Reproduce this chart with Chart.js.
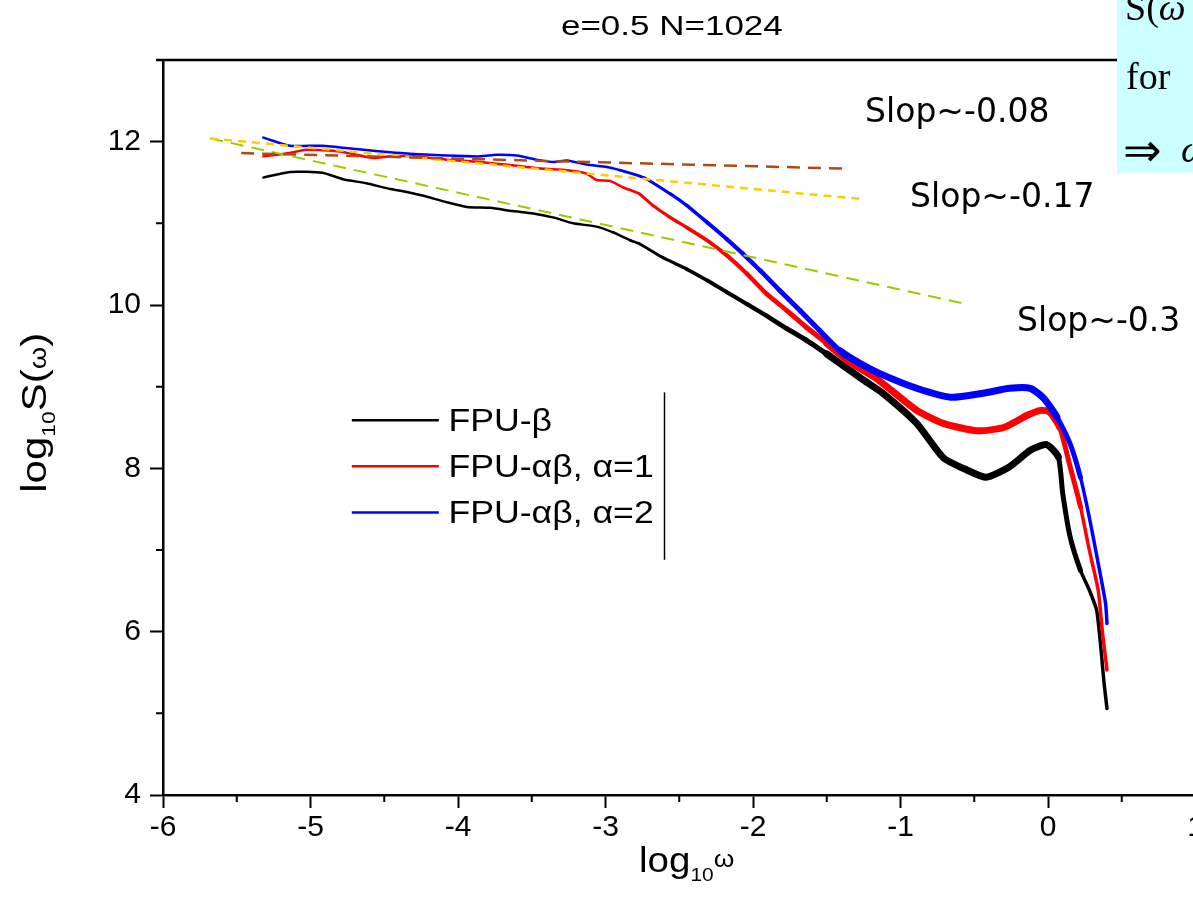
<!DOCTYPE html>
<html lang="en">
<head>
<meta charset="utf-8" />
<title>e=0.5 N=1024</title>
<script src="https://cdn.jsdelivr.net/npm/chart.js@4.4.0/dist/chart.umd.min.js"></script>
<style>
  html, body { margin: 0; padding: 0; background: #fff; overflow: hidden; }
  #wrap { position: relative; width: 1212px; height: 919px; }
</style>
</head>
<body>
<div id="wrap"><canvas id="spec"></canvas></div>
<script>
// ---- data (log10 omega, log10 S) ----
const fpuBetaX = [-5.32, -5.14, -4.92, -4.78, -4.62, -4.46, -4.39, -4.24, -4.08, -3.94, -3.78, -3.63, -3.49, -3.35, -3.22, -3.06, -2.95, -2.83, -2.77, -2.61, -2.45, -2.31, -2.18, -2.04, -1.91, -1.77, -1.64, -1.50, -1.36, -1.25, -1.12, -0.89, -0.71, -0.55, -0.42, -0.26, -0.12, -0.01, 0.07, 0.10, 0.15, 0.22, 0.28, 0.33, 0.36, 0.38, 0.40];
const fpuBetaY = [11.56, 11.63, 11.62, 11.54, 11.49, 11.42, 11.40, 11.34, 11.26, 11.20, 11.19, 11.15, 11.12, 11.07, 11.00, 10.96, 10.89, 10.79, 10.75, 10.58, 10.44, 10.30, 10.16, 10.01, 9.87, 9.71, 9.57, 9.40, 9.22, 9.08, 8.92, 8.55, 8.13, 7.98, 7.89, 8.02, 8.22, 8.29, 8.14, 7.69, 7.16, 6.75, 6.51, 6.26, 5.77, 5.37, 5.06];

const alpha1X = [-5.32, -5.14, -5.03, -4.80, -4.58, -4.46, -4.30, -4.08, -3.85, -3.63, -3.44, -3.26, -3.13, -3.06, -2.97, -2.88, -2.77, -2.68, -2.56, -2.45, -2.31, -2.18, -2.04, -1.91, -1.77, -1.64, -1.50, -1.36, -1.18, -1.12, -0.89, -0.71, -0.48, -0.30, -0.14, -0.05, 0.01, 0.08, 0.15, 0.22, 0.28, 0.34, 0.37, 0.40];
const alpha1Y = [11.82, 11.86, 11.90, 11.88, 11.80, 11.82, 11.82, 11.78, 11.75, 11.71, 11.67, 11.65, 11.61, 11.53, 11.52, 11.44, 11.36, 11.22, 11.07, 10.95, 10.79, 10.61, 10.38, 10.14, 9.93, 9.73, 9.53, 9.32, 9.12, 9.04, 8.71, 8.55, 8.46, 8.50, 8.65, 8.71, 8.69, 8.50, 8.02, 7.53, 7.00, 6.51, 5.98, 5.53];

const alpha2X = [-5.32, -5.14, -4.92, -4.69, -4.46, -4.30, -4.08, -3.85, -3.74, -3.60, -3.47, -3.35, -3.26, -3.13, -2.99, -2.90, -2.74, -2.56, -2.45, -2.31, -2.18, -2.07, -1.95, -1.82, -1.68, -1.55, -1.41, -1.27, -1.14, -0.89, -0.66, -0.44, -0.26, -0.12, -0.03, 0.06, 0.15, 0.22, 0.28, 0.34, 0.39, 0.40];
const alpha2Y = [12.05, 11.95, 11.95, 11.91, 11.87, 11.85, 11.83, 11.82, 11.84, 11.83, 11.78, 11.75, 11.77, 11.72, 11.69, 11.65, 11.56, 11.36, 11.22, 11.01, 10.81, 10.63, 10.42, 10.18, 9.93, 9.69, 9.44, 9.28, 9.16, 8.98, 8.87, 8.92, 8.98, 8.98, 8.86, 8.63, 8.30, 7.89, 7.40, 6.84, 6.35, 6.10];

// fitted straight lines
const fit008X = [-5.47, -1.37];
const fit008Y = [11.86, 11.67];
const fit017X = [-5.68, -1.28];
const fit017Y = [12.04, 11.30];
const fit03X = [-5.68, -0.55];
const fit03Y = [12.04, 10.01];

const seriesNames = ["FPU-β", "FPU-αβ, α=1", "FPU-αβ, α=2"];
const slopeLabels = ["Slop~-0.08", "Slop~-0.17", "Slop~-0.3"];
const xLabelValues = [-6, -5, -4, -3, -2, -1, 0, 1];
const yLabelValues = [4, 6, 8, 10, 12];

// ---- helpers ----
const zip = (xs, ys) => xs.map((x, i) => ({ x: x, y: ys[i] }));
const SANS = "'Liberation Sans', Arial, sans-serif";

function bandWidth(x) {
  // the measured curves get noisier (thicker) towards high frequency
  if (x < -3) return 2.5;
  if (x < -1.5) return 2.5 + ((x + 3) / 1.5) * 3;
  if (x < 0.02) return 7;
  if (x < 0.2) return 5;
  return 3.5;
}

function curve(label, xs, ys, color, order) {
  return {
    label: label,
    data: zip(xs, ys),
    borderColor: color,
    borderWidth: 2.5,
    borderCapStyle: "round",
    borderJoinStyle: "round",
    pointRadius: 0,
    tension: 0.2,
    order: order,
    segment: { borderWidth: (c) => bandWidth(c.p0.parsed.x) },
  };
}

function fitLine(xs, ys, color, dash, width) {
  return {
    data: zip(xs, ys),
    borderColor: color,
    borderWidth: width,
    borderDash: dash,
    pointRadius: 0,
    order: 0,
  };
}

// draw a row of text pieces, each { t, size, dy, family }, stretched by sx
function drawRich(ctx, parts, x, y, align, sx) {
  sx = sx || 1;
  let total = 0;
  parts.forEach((p) => {
    ctx.font = (p.style || "") + " " + p.size + "px " + (p.family || SANS);
    p.w = ctx.measureText(p.t).width;
    total += p.w;
  });
  ctx.save();
  ctx.translate(x, y);
  ctx.scale(sx, 1);
  let cx = align === "center" ? -total / 2 : 0;
  ctx.textAlign = "left";
  ctx.textBaseline = "alphabetic";
  parts.forEach((p) => {
    ctx.font = (p.style || "") + " " + p.size + "px " + (p.family || SANS);
    ctx.fillText(p.t, cx, p.dy || 0);
    cx += p.w;
  });
  ctx.restore();
}

const decorations = {
  id: "decorations",
  afterDraw(chart) {
    const ctx = chart.ctx;
    const xs = chart.scales.x;
    const ys = chart.scales.y;
    const a = chart.chartArea;
    const px = (v) => xs.getPixelForValue(v);
    const py = (v) => ys.getPixelForValue(v);
    ctx.save();
    ctx.fillStyle = "#000";
    ctx.strokeStyle = "#000";

    // frame top + right
    ctx.lineWidth = 2.5;
    ctx.beginPath();
    ctx.moveTo(a.left - 7, a.top);
    ctx.lineTo(a.right, a.top);
    ctx.lineTo(a.right, a.bottom);
    ctx.stroke();

    // minor ticks
    ctx.lineWidth = 2;
    ctx.beginPath();
    for (let v = -5.5; v < 1; v += 1) {
      ctx.moveTo(px(v), a.bottom);
      ctx.lineTo(px(v), a.bottom + 7);
    }
    for (let v = 5; v < 13; v += 2) {
      ctx.moveTo(a.left, py(v));
      ctx.lineTo(a.left - 7, py(v));
    }
    ctx.stroke();

    // title
    drawRich(ctx, [{ t: "e=0.5 N=1024", size: 28 }], px(-2.55), 35, "center", 1.25);

    // axis titles
    drawRich(ctx, [
      { t: "log", size: 35 },
      { t: "10", size: 19, dy: 9 },
      { t: "ω", size: 24, dy: -5 },
    ], px(-2.45), 872, "center", 1.1);

    ctx.save();
    ctx.translate(46, py(8.68));
    ctx.rotate(-Math.PI / 2);
    drawRich(ctx, [
      { t: "log", size: 35 },
      { t: "10", size: 19, dy: 9 },
      { t: "S(", size: 35 },
      { t: "ω", size: 24 },
      { t: ")", size: 35 },
    ], 0, 0, "center", 1.2);
    ctx.restore();

    // legend
    const colors = ["#000000", "#ff0000", "#0000ff"];
    const rows = [8.59, 8.025, 7.46];
    ctx.lineWidth = 2.5;
    rows.forEach((r, i) => {
      ctx.strokeStyle = colors[i];
      ctx.beginPath();
      ctx.moveTo(px(-4.72), py(r));
      ctx.lineTo(px(-4.13), py(r));
      ctx.stroke();
      ctx.fillStyle = "#000";
      drawRich(ctx, [{ t: seriesNames[i], size: 31 }], px(-4.065), py(r) + 11, "left", 1.15);
    });
    ctx.strokeStyle = "#000";
    ctx.lineWidth = 1.5;
    ctx.beginPath();
    ctx.moveTo(px(-2.60), py(8.93));
    ctx.lineTo(px(-2.60), py(6.88));
    ctx.stroke();

    // slope notes
    ctx.fillStyle = "#000";
    ctx.font = "33px 'DejaVu Sans', Verdana, sans-serif";
    ctx.textAlign = "left";
    ctx.textBaseline = "middle";
    ctx.fillText(slopeLabels[0], px(-1.24), py(12.35));
    ctx.fillText(slopeLabels[1], px(-0.935), py(11.30));
    ctx.fillText(slopeLabels[2], px(-0.21), py(9.79));

    // cyan note box at top right
    const bx = px(0.468);
    const by = py(11.62);
    ctx.fillStyle = "#ccffff";
    ctx.fillRect(bx, 0, chart.width - bx, by);
    ctx.fillStyle = "#000";
    const serif = "'Liberation Serif', 'Times New Roman', serif";
    ctx.textAlign = "left";
    ctx.textBaseline = "alphabetic";
    ctx.font = "38px " + serif;
    ctx.fillText("S(", bx + 8, 20);
    const sw = ctx.measureText("S(").width;
    ctx.font = "italic 38px " + serif;
    ctx.fillText("ω", bx + 8 + sw, 20);
    ctx.font = "38px " + serif;
    ctx.fillText("for", bx + 9, 89);
    ctx.font = "46px " + serif;
    ctx.fillText("⇒", bx + 6, 166);
    ctx.font = "italic 38px " + serif;
    ctx.fillText("ω", bx + 64, 162);
    ctx.restore();
  },
};

new Chart(document.getElementById("spec"), {
  type: "line",
  data: {
    datasets: [
      fitLine(fit008X, fit008Y, "#b04a12", [13, 8], 2.5),
      fitLine(fit017X, fit017Y, "#ffcc00", [8, 6], 2.5),
      fitLine(fit03X, fit03Y, "#99cc00", [13, 8], 2),
      curve(seriesNames[2], alpha2X, alpha2Y, "#0000ff", 1),
      curve(seriesNames[1], alpha1X, alpha1Y, "#ff0000", 2),
      curve(seriesNames[0], fpuBetaX, fpuBetaY, "#000000", 3),
    ],
  },
  options: {
    responsive: true,
    maintainAspectRatio: false,
    animation: false,
    layout: { padding: { top: 60, right: 16.5, left: 0, bottom: 0 } },
    plugins: {
      legend: { display: false },
      title: { display: false },
      tooltip: { enabled: false },
    },
    scales: {
      x: {
        type: "linear",
        min: -6,
        max: 1,
        afterFit: (s) => { s.height = 124; },
        border: { color: "#000", width: 2.5 },
        grid: {
          drawOnChartArea: false,
          tickLength: 13,
          tickWidth: 2,
          tickColor: (c) => (xLabelValues.includes(c.tick.value) ? "#000" : "rgba(0,0,0,0)"),
        },
        ticks: {
          stepSize: 0.5,
          autoSkip: false,
          maxRotation: 0,
          padding: 2,
          color: "#000",
          font: { family: SANS, size: 30 },
          callback: (v) => (xLabelValues.includes(v) ? String(v) : ""),
        },
      },
      y: {
        min: 4,
        max: 13,
        afterFit: (s) => { s.width = 163; },
        border: { color: "#000", width: 2.5 },
        grid: {
          drawOnChartArea: false,
          tickLength: 13,
          tickWidth: 2,
          tickColor: (c) => (yLabelValues.includes(c.tick.value) ? "#000" : "rgba(0,0,0,0)"),
        },
        ticks: {
          stepSize: 1,
          padding: 9,
          color: "#000",
          font: { family: SANS, size: 30 },
          callback: (v) => (yLabelValues.includes(v) ? String(v) : ""),
        },
      },
    },
  },
  plugins: [decorations],
});
</script>
</body>
</html>
